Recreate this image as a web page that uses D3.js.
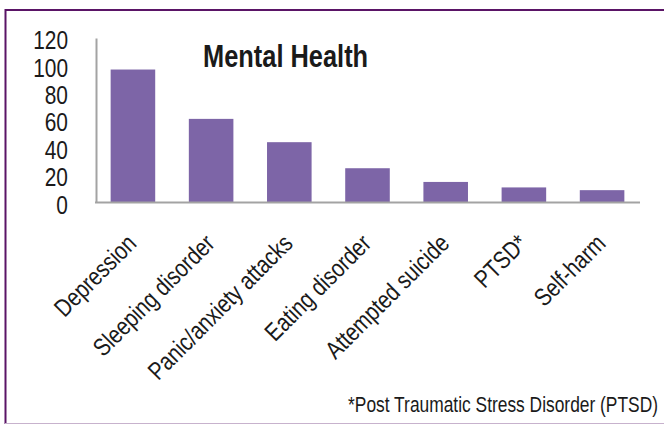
<!DOCTYPE html>
<html>
<head>
<meta charset="utf-8">
<script src="https://cdn.jsdelivr.net/npm/d3@7"></script>
<style>
  html, body { margin: 0; padding: 0; background: #fff; }
  svg { display: block; }
  text { font-family: "Liberation Sans", Arial, sans-serif; fill: #1a1a1a; }
</style>
</head>
<body>
<svg id="chart" width="664" height="424"></svg>
<script>
// Survey counts by mental health condition
const categories = ["Depression", "Sleeping disorder", "Panic/anxiety attacks", "Eating disorder", "Attempted suicide", "PTSD*", "Self-harm"];
const values = [97, 61, 44, 25, 15, 11, 9];
const yTicks = [0, 20, 40, 60, 80, 100, 120];
const title = "Mental Health";
const footnote = "*Post Traumatic Stress Disorder (PTSD)";

const W = 664, H = 424;
const NARROW = 0.82; // horizontal squeeze for a narrow sans look
const plot = { left: 96, right: 640, top: 38, bottom: 202.5 };
const svg = d3.select("#chart");

// frame
svg.append("path")
  .attr("d", `M5.5,${H + 2} V10 H${W + 2}`)
  .attr("fill", "none")
  .attr("stroke", "#5a1466")
  .attr("stroke-width", 2);
svg.append("line")
  .attr("x1", 5).attr("x2", W).attr("y1", 423.5).attr("y2", 423.5)
  .attr("stroke", "#c7b2cd").attr("stroke-width", 1);

const x = d3.scaleBand()
  .domain(categories)
  .range([plot.left - 1, plot.right])
  .paddingInner(0.43)
  .paddingOuter(0.2);

const y = d3.scaleLinear()
  .domain([0, 120])
  .range([plot.bottom, plot.top]);

// bars
svg.append("g").selectAll("rect")
  .data(values)
  .join("rect")
  .attr("x", (d, i) => x(categories[i]))
  .attr("width", x.bandwidth())
  .attr("y", d => y(d))
  .attr("height", d => y(0) - y(d))
  .attr("fill", "#7d65a7");

// y axis
const yAxis = svg.append("g")
  .attr("transform", `translate(${plot.left},0)`)
  .call(d3.axisLeft(y).tickValues(yTicks).tickSize(0));
yAxis.select(".domain").attr("stroke", "#a3a3a3").attr("stroke-width", 2);
yAxis.selectAll("text")
  .attr("font-size", 25.5)
  .attr("font-family", null)
  .attr("x", 0)
  .attr("dy", "0.42em")
  .attr("transform", `translate(-28,0) scale(${NARROW},1)`);

// x axis
const xAxis = svg.append("g")
  .attr("transform", `translate(0,${plot.bottom})`)
  .call(d3.axisBottom(x).tickSize(0).tickSizeOuter(0));
xAxis.select(".domain")
  .attr("d", `M${plot.left - 1},0H${plot.right}`)
  .attr("stroke", "#a3a3a3").attr("stroke-width", 2);
xAxis.selectAll("text")
  .attr("font-size", 25)
  .attr("font-family", null)
  .attr("text-anchor", "end")
  .attr("y", 0).attr("dy", 0)
  .attr("transform", `translate(5,42.5) rotate(-45) scale(${NARROW},1)`);

svg.selectAll(".tick text").attr("fill", "#1a1a1a");

// title
svg.append("text")
  .attr("transform", `translate(203,66.7) scale(${NARROW},1)`)
  .attr("font-size", 31)
  .attr("font-weight", "bold")
  .text(title);

// footnote
svg.append("text")
  .attr("transform", `translate(658,411.5) scale(${NARROW},1)`)
  .attr("text-anchor", "end")
  .attr("font-size", 21.2)
  .text(footnote);
</script>
</body>
</html>
